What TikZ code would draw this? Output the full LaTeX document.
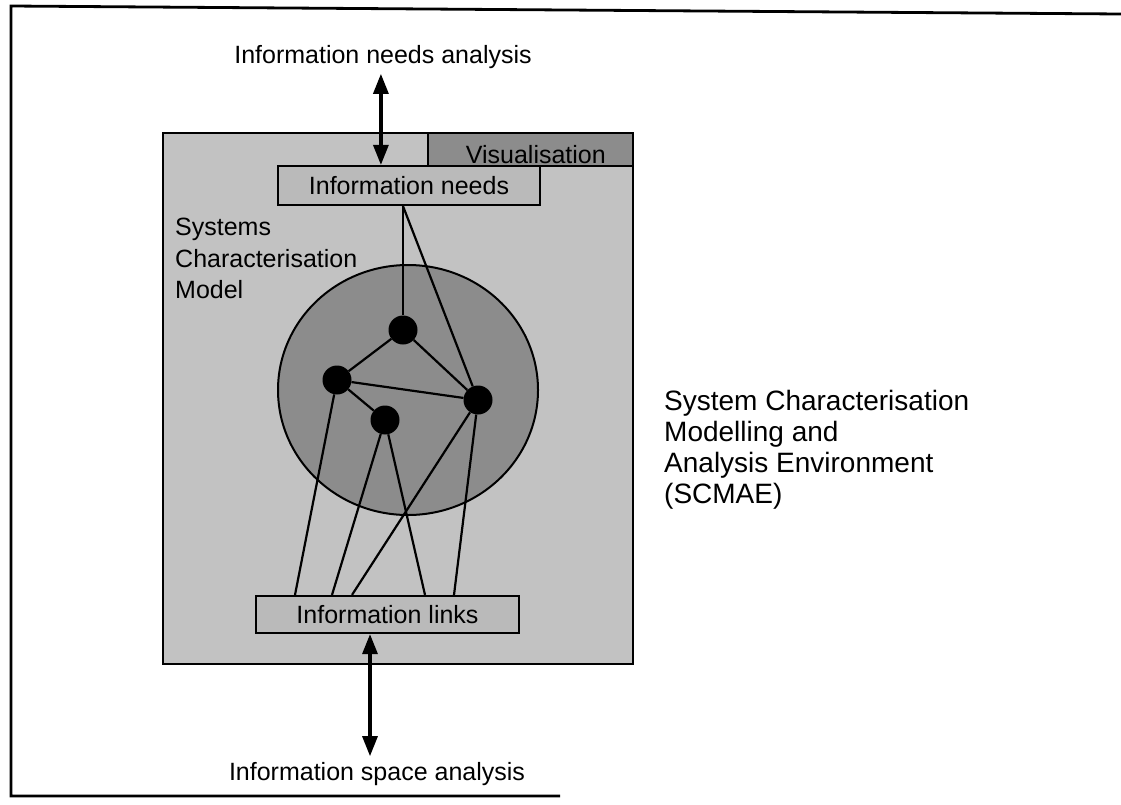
\documentclass[tikz,border=0pt]{standalone}
\usepackage{fontspec}
\setmainfont{Liberation Sans}
\usetikzlibrary{arrows.meta,shapes.geometric}
\begin{document}
\begin{tikzpicture}[x=1pt,y=-1pt,
  lbl/.style={font=\fontsize{25}{31.5}\selectfont, inner sep=0pt},
  bigl/.style={font=\fontsize{28}{31}\selectfont, inner sep=0pt, align=left},
  infobox/.style={draw, line width=2.2pt, fill=black!27, inner sep=0pt,
    font=\fontsize{25}{30}\selectfont},
  dot/.style={circle, fill=black, minimum size=29pt, inner sep=0pt},
  link/.style={line width=2.2pt},
  biarrow/.style={line width=3.2pt, {Triangle[length=20pt,width=15pt]}-{Triangle[length=20pt,width=15pt]}},
  frameline/.style={line width=2.8pt}
]
\useasboundingbox (0,0) rectangle (1121,804);
% outer frame (scanned: left, top, partial bottom)
\coordinate (fTL) at (11,6);
\coordinate (fTR) at (1121,14);
\coordinate (fBL) at (11,796);
\coordinate (fBR) at (560,796);
\draw[frameline] (fTR) -- (fTL) -- (fBL) -- (fBR);

% main model box
\node[draw, line width=2.2pt, fill=black!24, minimum width=470pt, minimum height=531pt, inner sep=0pt]
  (model) at (398,398.5) {};
% visualisation tab
\node[draw, line width=2pt, fill=black!45, minimum width=205pt, minimum height=33pt, inner sep=0pt]
  (vistab) at (530.5,149.5) {};
\node[lbl, anchor=base east] (vistext) at (606,163) {Visualisation};

% info boxes
\node[infobox, minimum width=262pt, minimum height=39pt] (needs) at (409,185.5) {Information needs};
\node[infobox, minimum width=263pt, minimum height=37pt] (links) at (387.5,614.5) {Information links};

% label of model
\node[lbl, align=left, anchor=north west] (sysmodel) at (175,218) {Systems\\Characterisation\\Model};

% circle
\node[ellipse, draw, line width=2pt, fill=black!45, minimum width=260pt, minimum height=250pt, inner sep=0pt]
  (world) at (408,390) {};

% dots
\node[dot] (n1) at (403,330) {};
\node[dot] (n2) at (337,380) {};
\node[dot] (n3) at (385,420) {};
\node[dot] (n4) at (478,400) {};

% connectors
\draw[link] (needs.south -| n1) -- (n1);
\draw[link] (needs.south -| n1) -- (n4);
\draw[link] (n1) -- (n2);
\draw[link] (n1) -- (n4);
\draw[link] (n2) -- (n4);
\draw[link] (n2) -- (n3);
\draw[link] (n2) -- ([xshift=-92.5pt]links.north);
\draw[link] (n3) -- ([xshift=-55.5pt]links.north);
\draw[link] (n3) -- ([xshift=37.5pt]links.north);
\draw[link] (n4) -- ([xshift=-35.5pt]links.north);
\draw[link] (n4) -- ([xshift=66.5pt]links.north);

% external labels
\node[lbl] (needsan) at (383,57) {Information needs analysis};
\node[lbl] (spacean) at (377,774) {Information space analysis};
\node[bigl, anchor=north west] (scmae) at (664,390) {System Characterisation\\Modelling and\\Analysis Environment\\(SCMAE)};

% arrows
\draw[biarrow] ([yshift=-5pt]needsan.south -| needs.north west) ++(104pt,0) coordinate (ta) -- (ta |- needs.north);
\draw[biarrow] ([xshift=-7pt,yshift=6pt]spacean.north) -- ([xshift=-7pt]spacean.north |- links.south);
\end{tikzpicture}
\end{document}
